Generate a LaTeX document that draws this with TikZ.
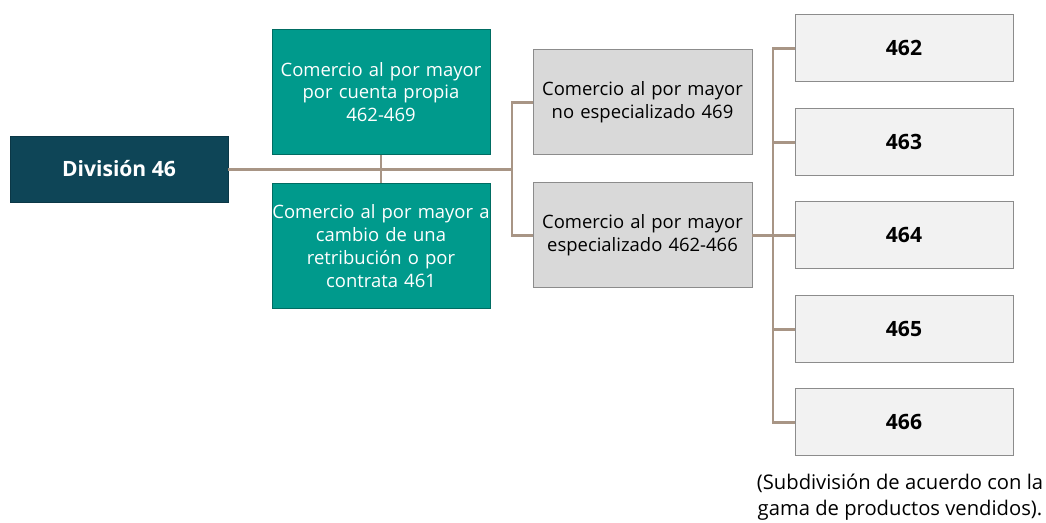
\documentclass[tikz,border=0pt]{standalone}
\usepackage{fontspec}
\setmainfont{Open Sans}
\usepackage{xcolor}
\definecolor{divfill}{HTML}{0E4557}
\definecolor{tealfill}{HTML}{009A8C}
\definecolor{grayfill}{HTML}{D9D9D9}
\definecolor{codefill}{HTML}{F2F2F2}
\definecolor{boxline}{HTML}{8C8C8C}
\definecolor{linkcol}{HTML}{A89585}

\begin{document}
\begin{tikzpicture}[x=0.02cm,y=-0.02cm,
    every node/.style={font=\fontsize{10.5}{13}\selectfont, align=center, inner sep=0pt},
    divbox/.style={draw=divfill!80!black, fill=divfill, text=white, font=\fontsize{12}{14}\selectfont\bfseries,
        minimum width=4.36cm, minimum height=1.32cm},
    tealbox/.style={draw=tealfill!70!black, fill=tealfill, text=white, text width=4.36cm,
        minimum width=4.36cm, minimum height=2.5cm},
    graybox/.style={draw=boxline, fill=grayfill, text width=4.38cm,
        minimum width=4.38cm, minimum height=2.1cm},
    codebox/.style={draw=boxline, fill=codefill, font=\fontsize{12}{14}\selectfont\bfseries,
        minimum width=4.36cm, minimum height=1.34cm},
    link/.style={draw=linkcol, line width=1.7pt}]
    \useasboundingbox (0,0) rectangle (1046,522);
    \node[divbox] (div) at (119,169) {División 46};
    \node[tealbox] (propia) at (381,92) {Comercio al por mayor\\por cuenta propia\\462-469};
    \node[tealbox] (retrib) at (381,246) {Comercio al por mayor a\\cambio de una\\retribución o por\\contrata 461};
    \node[graybox] (noesp) at (642.5,102) {Comercio al por mayor\\no especializado 469};
    \node[graybox] (esp) at (642.5,235) {Comercio al por mayor\\especializado 462-466};
    \node[codebox] (c462) at (904,48) {462};
    \node[codebox] (c463) at (904,142) {463};
    \node[codebox] (c464) at (904,235) {464};
    \node[codebox] (c465) at (904,329) {465};
    \node[codebox] (c466) at (904,422) {466};
    \node[font=\fontsize{11.5}{14.7}\selectfont] (note) at (900,497) {(Subdivisión de acuerdo con la\\gama de productos vendidos).};
    \coordinate (j1) at (512,169);
    \coordinate (j2) at (773,235);
    \path[link] (div.east) -- (j1);
    \path[link] (propia.south) -- (retrib.north);
    \path[link] (noesp.west) -| (j1) |- (esp.west);
    \path[link] (esp.east) -- (c464.west);
    \path[link] (c462.west) -| (j2) |- (c466.west);
    \path[link] (j2 |- c463.west) -- (c463.west);
    \path[link] (j2 |- c465.west) -- (c465.west);
\end{tikzpicture}
\end{document}
